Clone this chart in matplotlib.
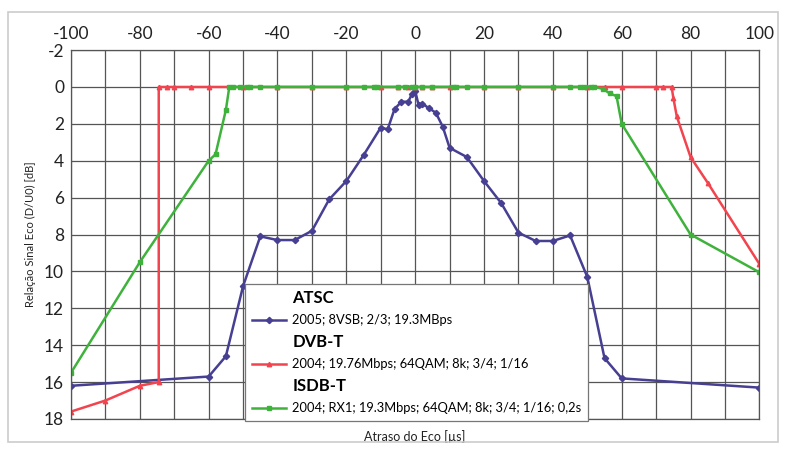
import matplotlib.pyplot as plt
from matplotlib.lines import Line2D
from matplotlib.patches import Rectangle

plt.rcParams['font.family'] = ['Lato', 'DejaVu Sans']
plt.rcParams['axes.unicode_minus'] = False

# ATSC - 2005; 8VSB; 2/3; 19.3MBps
atsc_x = [-100, -60, -55, -50, -45, -40, -35, -30, -25, -20, -15, -10, -8, -6, -4, -2,
          -1, 0, 1, 2, 4, 6, 8, 10, 15, 20, 25, 30, 35, 40, 45, 50, 55, 60, 100]
atsc_y = [16.2, 15.7, 14.6, 10.8, 8.1, 8.3, 8.3, 7.8, 6.1, 5.1, 3.7, 2.2, 2.3, 1.2, 0.8, 0.8,
          0.4, 0.2, 1.0, 0.9, 1.15, 1.4, 2.15, 3.3, 3.8, 5.1, 6.3, 7.9, 8.35, 8.35, 8.05, 10.3, 14.7, 15.8, 16.3]

# DVB-T - 2004; 19.76Mbps; 64QAM; 8k; 3/4; 1/16
dvb_x = [-100, -90, -80, -74.5, -74.5, -72, -70, -65, -60, -50, -40, -30, -20, -10, -5, -2, 0,
         2, 5, 10, 20, 30, 40, 50, 55, 60, 70, 72, 74.5, 75, 76, 80, 85, 100]
dvb_y = [17.6, 17.0, 16.2, 16.0, 0, 0, 0, 0, 0, 0, 0, 0, 0, 0, 0, 0, 0,
         0, 0, 0, 0, 0, 0, 0, 0, 0, 0, 0, 0, 0.6, 1.6, 3.8, 5.2, 9.6]

# ISDB-T - 2004; RX1; 19.3Mbps; 64QAM; 8k; 3/4; 1/16; 0,2s
isdb_x = [-100, -80, -60, -58, -55, -54, -53, -51, -49, -48, -45, -40, -30, -20, -15, -12, -11,
          -5, -3, -1, 0, 2, 5, 11, 12, 15, 20, 30, 40, 45, 48, 49, 51, 52, 54.5, 56.5, 58.5, 60, 80, 100]
isdb_y = [15.5, 9.5, 4.0, 3.65, 1.25, 0, 0, 0, 0, 0, 0, 0, 0, 0, 0, 0, 0,
          0, 0, 0, 0, 0, 0, 0, 0, 0, 0, 0, 0, 0, 0, 0, 0, 0, 0.1, 0.35, 0.5, 2.0, 8.0, 10.05]

series_titles = ['ATSC', 'DVB-T', 'ISDB-T']
series_labels = ['2005; 8VSB; 2/3; 19.3MBps',
                 '2004; 19.76Mbps; 64QAM; 8k; 3/4; 1/16',
                 '2004; RX1; 19.3Mbps; 64QAM; 8k; 3/4; 1/16; 0,2s']
colors = ['#463f92', '#f2444e', '#3fb23c']
markers = ['D', '^', 's']

fig = plt.figure(figsize=(7.85, 4.51), dpi=100)
ax = fig.add_axes([0.0904, 0.071, 0.877, 0.818])

lines = []
for xs, ys, c, m in zip([atsc_x, dvb_x, isdb_x], [atsc_y, dvb_y, isdb_y], colors, markers):
    l, = ax.plot(xs, ys, color=c, lw=1.8, marker=m, ms=3.2, mec=c, mfc=c)
    lines.append(l)

ax.set_xlim(-100, 100)
ax.set_ylim(18, -2)
ax.set_xticks(range(-100, 101, 20))
ax.set_xticks(range(-100, 101, 10), minor=True)
ax.set_yticks(range(-2, 19, 2))
ax.xaxis.tick_top()
ax.tick_params(which='both', length=0, labelsize=12.5, colors='#222222')
ax.tick_params(axis='x', pad=6)
ax.tick_params(axis='y', pad=5)
ax.grid(True, which='both', color='#555555', lw=0.9)
ax.set_axisbelow(True)
for s in ax.spines.values():
    s.set_color('#555555')
    s.set_linewidth(0.9)

ax.set_xlabel('Atraso do Eco [µs]', fontsize=9, color='#222222', labelpad=8)
ax.set_ylabel('Relação Sinal Eco (D/U0) [dB]', fontsize=8, color='#222222', labelpad=6)

blank = Line2D([], [], alpha=0)
handles, labels = [], []
for t, lab, l in zip(series_titles, series_labels, lines):
    handles += [blank, l]
    labels += [t, lab]
leg = ax.legend(handles, labels, loc='lower left', bbox_to_anchor=(0.253, -0.005),
                fontsize=9.3, frameon=True, fancybox=False, framealpha=1,
                edgecolor='#777777', handlelength=2.7, handletextpad=0.45,
                labelspacing=0.62, borderpad=0.5, borderaxespad=0.0)
for i, txt in enumerate(leg.get_texts()):
    if i % 2 == 0:
        txt.set_fontweight('bold')
        txt.set_fontsize(12)
leg.get_frame().set_linewidth(0.9)

fig.patches.append(Rectangle((8 / 785, 1 - 442 / 451), 770 / 785, 430 / 451,
                             transform=fig.transFigure, fill=False,
                             edgecolor='#cccccc', lw=1.2))

fig.savefig('out.png', dpi=100)
